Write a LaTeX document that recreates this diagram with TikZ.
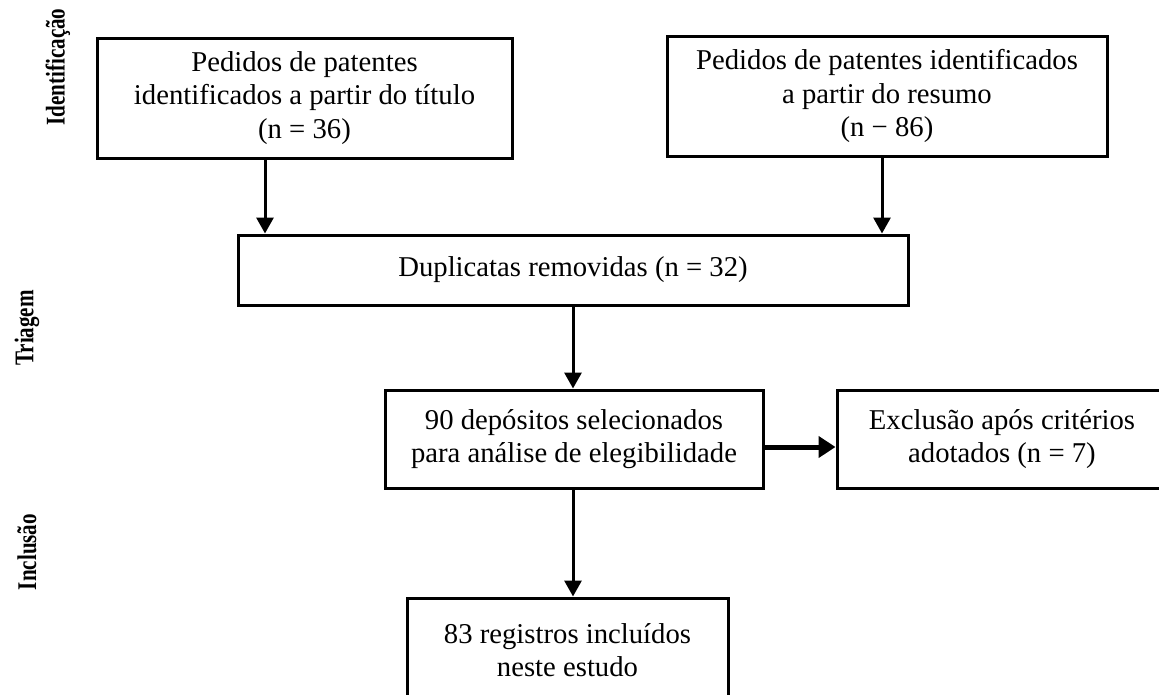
\documentclass[tikz,border=0pt]{standalone}
\usepackage{fontspec}
\setmainfont{Liberation Serif}
\usetikzlibrary{arrows.meta}
\begin{document}
\begin{tikzpicture}[x=1pt,y=-1pt,
  box/.style={draw,line width=3pt,rectangle,inner sep=0pt,align=center,
    font=\fontsize{28.7}{33.5}\selectfont},
  arr/.style={line width=3pt,-{Triangle[length=16pt,width=17pt]}},
  arrthick/.style={line width=5pt,-{Triangle[length=17pt,width=21pt]}},
  lbl/.style={rotate=90,inner sep=0pt}]
\useasboundingbox (0,0) rectangle (1159,694);
\clip (0,0) rectangle (1159,694);
% side labels
\node[lbl] (L1) at (58,67) {\scalebox{0.78}[1]{\fontsize{27}{27}\selectfont\bfseries Identificação}};
\node[lbl] (L2) at (27,328) {\scalebox{0.78}[1]{\fontsize{27}{27}\selectfont\bfseries Triagem}};
\node[lbl] (L3) at (27,552) {\scalebox{0.78}[1]{\fontsize{27}{27}\selectfont\bfseries Inclusão}};
% boxes
\node[box,minimum width=415pt,minimum height=120pt] (A) at (304.5,98)
  {Pedidos de patentes\\identificados a partir do título\\(n = 36)};
\node[box,minimum width=440pt,minimum height=120pt] (B) at (887,96)
  {Pedidos de patentes identificados\\a partir do resumo\\(n − 86)};
\node[box,minimum width=670pt,minimum height=70pt] (C) at (573,270)
  {Duplicatas removidas (n = 32)};
\node[box,minimum width=378pt,minimum height=98pt] (D) at (574,439)
  {90 depósitos selecionados\\para análise de elegibilidade};
\node[box,minimum width=330pt,minimum height=98pt] (E) at (1002,439)
  {Exclusão após critérios\\adotados (n = 7)};
\node[box,minimum width=321pt,minimum height=104pt] (F) at (567.5,650)
  {83 registros incluídos\\neste estudo};
% connector columns
\coordinate (ca) at (265,0);
\coordinate (cb) at (882,0);
\coordinate (cc) at (573,0);
\coordinate (cd) at (0,447);
% connectors
\draw[arr] (A.south -| ca) -- (C.north -| ca);
\draw[arr] (B.south -| cb) -- (C.north -| cb);
\draw[arr] (C.south -| cc) -- (D.north -| cc);
\draw[arrthick] (D.east |- cd) -- (E.west |- cd);
\draw[arr] (D.south -| cc) -- (F.north -| cc);
\end{tikzpicture}
\end{document}
